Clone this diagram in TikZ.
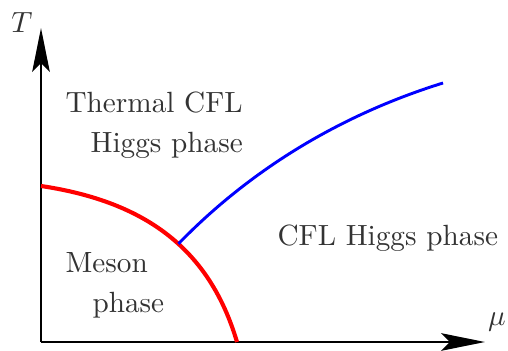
\documentclass[tikz,border=0pt]{standalone}
\usetikzlibrary{arrows.meta}
\definecolor{txtgray}{HTML}{333333}

\begin{document}
\begin{tikzpicture}[x=0.342pt,y=0.342pt,
  axis/.style={line width=1pt, -{Stealth[length=15pt, width=6pt, inset=3pt]}},
  lbl/.style={inner sep=0pt, anchor=base west, text=txtgray}]
\useasboundingbox (-41,-8) rectangle (467,342);
\coordinate (O) at (0,0);
\coordinate (Ttip) at (0,314);
\coordinate (mutip) at (444,0);
% axes
\draw[axis] (O) -- (Ttip);
\draw[axis] (O) -- (mutip);
\node[text=txtgray] (Tlab) at (-19,319) {$T$};
\node[text=txtgray] (mulab) at (456,20) {$\mu$};
% phase boundaries
\draw[line width=1.4pt, red] (0,156) .. controls (107,140) and (169,91) .. (196,0)
  coordinate[pos=0.55] (meet);
\draw[line width=1pt, blue] (meet) .. controls (209,172) and (299,227) .. (402,259);
% regions
\node[lbl] (therm1) at (24,229) {Thermal CFL};
\node[lbl] (therm2) at (49,189) {Higgs phase};
\node[lbl] (meson1) at (24,70) {Meson};
\node[lbl] (meson2) at (51,30) {phase};
\node[lbl] (cfl) at (236,97) {CFL Higgs phase};
\end{tikzpicture}
\end{document}
